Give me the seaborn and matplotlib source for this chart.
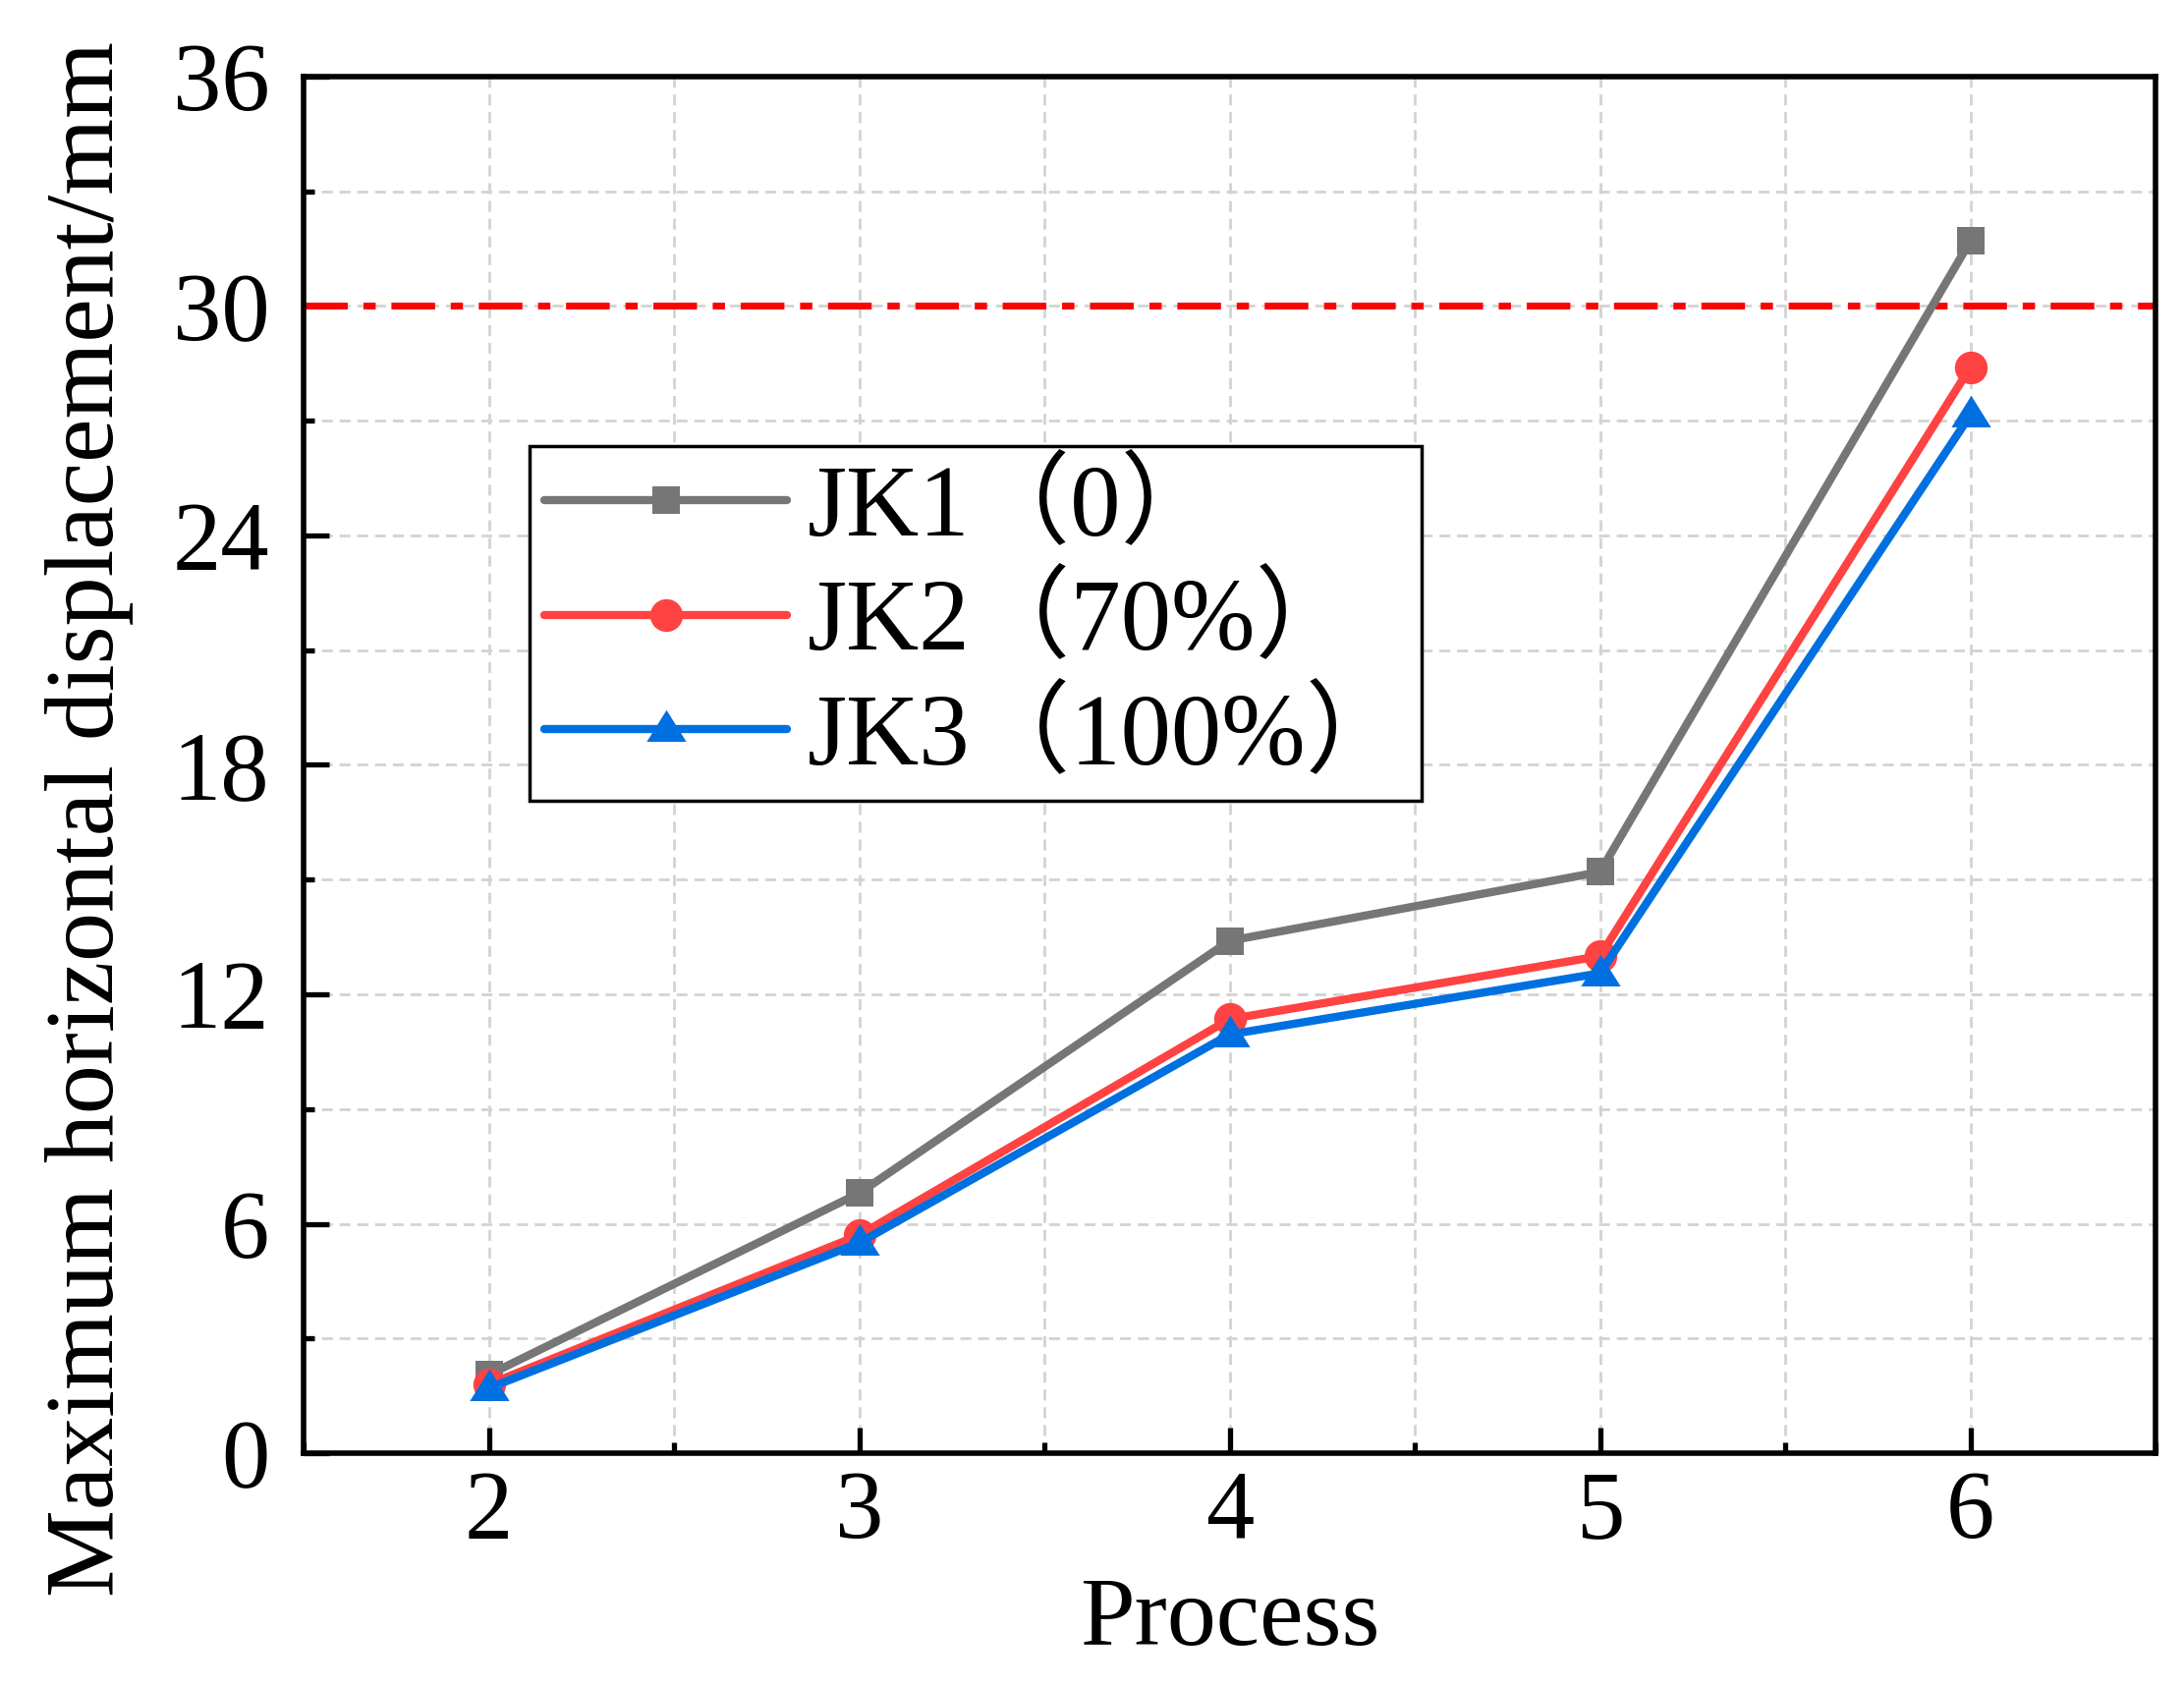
import matplotlib
matplotlib.use("Agg")
import matplotlib.pyplot as plt
import seaborn as sns
import pandas as pd
from matplotlib.ticker import MultipleLocator

process = [2, 3, 4, 5, 6]
jk1 = [2.05, 6.8, 13.4, 15.2, 31.7]
jk2 = [1.8, 5.7, 11.35, 13.0, 28.4]
jk3 = [1.7, 5.5, 10.95, 12.55, 27.15]
series_names = ["JK1（0）", "JK2（70%）", "JK3（100%）"]
limit_value = 30

sns.set_theme(style="white")
plt.rcParams['font.family'] = ['Liberation Serif', 'Noto Sans CJK SC']
plt.rcParams['text.color'] = 'black'
plt.rcParams['axes.labelcolor'] = 'black'
plt.rcParams['xtick.color'] = 'black'
plt.rcParams['ytick.color'] = 'black'

df = pd.DataFrame({
    "Process": process * 3,
    "Value": jk1 + jk2 + jk3,
    "Series": [series_names[0]] * 5 + [series_names[1]] * 5 + [series_names[2]] * 5,
})

fig = plt.figure(figsize=(22.23, 17.17), dpi=100)
ax = fig.add_axes([0.139, 0.1386, 0.848, 0.816])

palette = {series_names[0]: "#767676", series_names[1]: "#FF4242", series_names[2]: "#0070E0"}
tri = [(-1.0, -0.62), (1.0, -0.62), (0.0, 0.98)]
markers = {series_names[0]: "s", series_names[1]: "o", series_names[2]: tri}
msizes = {series_names[0]: 20, series_names[1]: 24, series_names[2]: 29}
LW = 6.0

sns.lineplot(data=df, x="Process", y="Value", hue="Series", style="Series",
             palette=palette, markers=markers, dashes=False, linewidth=LW,
             markeredgewidth=0, ax=ax, legend=True, zorder=3)
for line, name in zip(ax.get_lines(), series_names):
    line.set_markersize(msizes[name])
    line.set_linewidth(LW)

ax.axhline(limit_value, color="#FF0000", linewidth=5, dashes=(6.4, 2.3, 1.8, 2.3), zorder=2)

ax.set_xlim(1.5, 6.5)
ax.set_ylim(0, 36)
ax.xaxis.set_major_locator(MultipleLocator(1))
ax.xaxis.set_minor_locator(MultipleLocator(0.5))
ax.yaxis.set_major_locator(MultipleLocator(6))
ax.yaxis.set_minor_locator(MultipleLocator(3))

ax.grid(True, which="both", color="#D3D3D3", linewidth=2.0, dashes=(4, 2.5))
ax.set_axisbelow(True)

for s in ax.spines.values():
    s.set_color("black")
    s.set_linewidth(4)

ax.tick_params(which="major", direction="in", length=18.5, width=3.8, labelsize=71, colors="black")
ax.tick_params(which="minor", direction="in", length=8, width=3.8, colors="black")
ax.tick_params(axis="x", which="both", top=False, bottom=True, pad=12)
ax.tick_params(axis="y", which="both", left=True, right=False, pad=25)

ax.set_xlabel("Process", fontsize=72, color="black")
ax.set_ylabel("Maximum horizontal displacement/mm", fontsize=72, color="black")
ax.xaxis.set_label_coords(0.5, -0.09)
ax.yaxis.set_label_coords(-0.092, 0.461)

handles, labels = ax.get_legend_handles_labels()
leg = ax.legend(handles, labels, loc="upper left", bbox_to_anchor=(0.122, 0.7316),
                fontsize=74, frameon=True, fancybox=False, edgecolor="black",
                framealpha=1, borderpad=0.15, labelspacing=0.18, handlelength=2.4,
                handletextpad=0.2, borderaxespad=0)
leg.get_frame().set_linewidth(2.5)
for t in leg.get_texts():
    t.set_color("black")
for h, name in zip(leg.legend_handles, series_names):
    h.set_linewidth(LW)
    h.set_markersize(msizes[name])

fig.savefig("out.png", dpi=100)
